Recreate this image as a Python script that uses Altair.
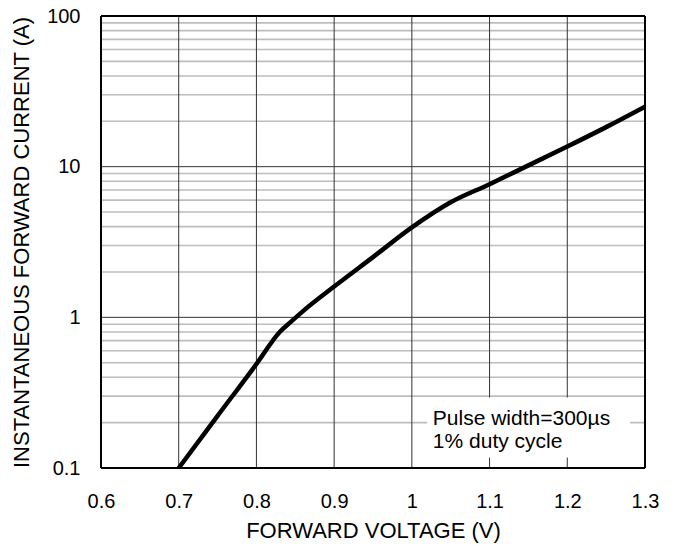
import altair as alt
import pandas as pd

# Curve data
voltage = [0.70, 0.75, 0.80, 0.83, 0.845, 0.86, 0.90, 0.95, 1.00, 1.05, 1.10, 1.15, 1.20, 1.25, 1.30]
current = [0.10, 0.222, 0.49, 0.80, 0.94, 1.10, 1.60, 2.51, 3.95, 5.8, 7.65, 10.2, 13.6, 18.3, 25.0]

# Axis ticks
x_ticks = [0.6, 0.7, 0.8, 0.9, 1.0, 1.1, 1.2, 1.3]
y_ticks = [0.1, 1, 10, 100]
y_minor = [m * d for d in [0.1, 1, 10] for m in range(2, 10)]
y_major_inner = [1, 10]

# Annotation
ann_lines = ["Pulse width=300µs", "1% duty cycle"]
ann_x = [1.027]
ann_y = [0.213]
box_x = [1.0196, 1.2808]
box_y = [0.1174, 0.294]

FONT = "Liberation Sans"

curve_df = pd.DataFrame({"x": voltage, "y": current})
minor_df = pd.DataFrame({"y": y_minor})
major_y_df = pd.DataFrame({"y": y_major_inner})
major_x_df = pd.DataFrame({"x": x_ticks[1:-1]})
box_df = pd.DataFrame({"x": [box_x[0]], "x1": [box_x[1]], "y": [box_y[0]], "y1": [box_y[1]]})
ann_df = pd.DataFrame({"x": ann_x, "y": ann_y, "t": [ann_lines]})
frame_x_df = pd.DataFrame({"x": [x_ticks[0], x_ticks[-1]]})
frame_y_df = pd.DataFrame({"y": [y_ticks[0], y_ticks[-1]]})

xscale = alt.Scale(domain=[0.6, 1.3], nice=False, zero=False)
yscale = alt.Scale(type="log", domain=[0.1, 100], nice=False)

xaxis = alt.Axis(values=x_ticks, format="~g", grid=False, ticks=False, domain=False,
                 labelFontSize=20, labelFont=FONT, labelColor="black", labelPadding=23,
                 title="FORWARD VOLTAGE (V)", titleFont=FONT, titleFontSize=22,
                 titleFontWeight="normal", titleColor="black", titlePadding=9,
                 labelFlush=False)
yaxis = alt.Axis(values=y_ticks, format="~g", grid=False, ticks=False, domain=False,
                 labelFontSize=20, labelFont=FONT, labelColor="black", labelPadding=21,
                 title="INSTANTANEOUS FORWARD CURRENT (A)", titleFont=FONT, titleFontSize=22,
                 titleFontWeight="normal", titleColor="black", titlePadding=13,
                 labelFlush=False)

X = alt.X("x:Q", scale=xscale, axis=xaxis)
Y = alt.Y("y:Q", scale=yscale, axis=yaxis)

minor = alt.Chart(minor_df).mark_rule(color="#bdbdbd", strokeWidth=1.6).encode(y=Y)
major_v = alt.Chart(major_x_df).mark_rule(color="#333333", strokeWidth=1).encode(x=X)
major_h = alt.Chart(major_y_df).mark_rule(color="#333333", strokeWidth=1).encode(y=Y)
curve = alt.Chart(curve_df).mark_line(color="black", strokeWidth=4.5, interpolate="monotone",
                                      clip=True).encode(x=X, y=Y)
box = alt.Chart(box_df).mark_rect(fill="white").encode(x=X, x2="x1:Q", y=Y, y2="y1:Q")
ann = alt.Chart(ann_df).mark_text(align="left", baseline="middle", font=FONT, fontSize=21,
                                  lineHeight=23, color="black").encode(x=X, y=Y, text="t")
frame_v = alt.Chart(frame_x_df).mark_rule(color="black", strokeWidth=2).encode(x=X)
frame_h = alt.Chart(frame_y_df).mark_rule(color="black", strokeWidth=2).encode(y=Y)

chart = alt.layer(minor, major_v, major_h, curve, box, ann, frame_v, frame_h).properties(
    width=544, height=452,
    autosize=alt.AutoSizeParams(type="none"),
    padding={"left": 93, "top": 8, "right": 20, "bottom": 78},
).configure_view(stroke=None).configure(background="white")

chart.save("out.html", embed_options={"renderer": "svg", "actions": False})
